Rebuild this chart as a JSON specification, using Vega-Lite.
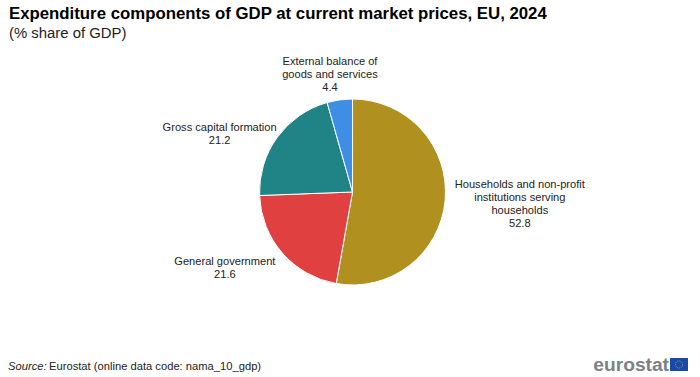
{
"$schema":"https://vega.github.io/schema/vega-lite/v6.json",
"width":690,"height":367,
"autosize":"none",
"padding":{"left":7.5,"right":2.5,"top":8.5,"bottom":1.5},
"background":"white",
"view":{"stroke":null},
"config":{"text":{"font":"Liberation Sans"}},
"title":{"text":"Expenditure components of GDP at current market prices, EU, 2024","subtitle":"(% share of GDP)","anchor":"start","frame":"group","font":"Liberation Sans","fontSize":16.8,"fontWeight":"bold","color":"#000000","subtitleFont":"Liberation Sans","subtitleFontSize":14.9,"subtitleColor":"#222222","subtitlePadding":3,"dx":1.5,"offset":-57},
"data":{"values":[
{"name":"Households and non-profit institutions serving households","value":52.8,"order":1,"label":"Households and non-profit\ninstitutions serving\nhouseholds\n52.8"},
{"name":"General government","value":21.6,"order":2,"label":"General government\n21.6"},
{"name":"Gross capital formation","value":21.2,"order":3,"label":"Gross capital formation\n21.2"},
{"name":"External balance of goods and services","value":4.4,"order":4,"label":"External balance of\ngoods and services\n4.4"}
]},
"encoding":{
"theta":{"field":"value","type":"quantitative","stack":true,"scale":{"domain":[0,100]}},
"order":{"field":"order","type":"ordinal"}
},
"layer":[
{"mark":{"type":"arc","outerRadius":93,"stroke":"white","strokeWidth":1},
"encoding":{"color":{"field":"name","type":"nominal","legend":null,"scale":{"domain":["Households and non-profit institutions serving households","General government","Gross capital formation","External balance of goods and services"],"range":["#b09120","#e04040","#208486","#3e8ee6"]}}}},
{"mark":{"type":"text","radius":181,"dx":-13,"dy":-23,"lineBreak":"\n","lineHeight":13,"fontSize":11.1,"fill":"#222222","align":"center","baseline":"middle"},
"encoding":{"text":{"condition":{"test":"datum.order===1","field":"label"},"value":""}}},
{"mark":{"type":"text","radius":150,"dx":-14.5,"dy":-28.5,"lineBreak":"\n","lineHeight":13,"fontSize":11.1,"fill":"#222222","align":"center","baseline":"middle"},
"encoding":{"text":{"condition":{"test":"datum.order===2","field":"label"},"value":""}}},
{"mark":{"type":"text","radius":150,"dx":-11.5,"dy":24,"lineBreak":"\n","lineHeight":13,"fontSize":11.1,"fill":"#222222","align":"center","baseline":"middle"},
"encoding":{"text":{"condition":{"test":"datum.order===3","field":"label"},"value":""}}},
{"mark":{"type":"text","radius":120,"dx":-6,"dy":-11,"lineBreak":"\n","lineHeight":13,"fontSize":11.1,"fill":"#222222","align":"center","baseline":"middle"},
"encoding":{"text":{"condition":{"test":"datum.order===4","field":"label"},"value":""}}},
{"data":{"values":[{"t":"Source:"}]},"mark":{"type":"text","align":"left","baseline":"alphabetic","fontSize":11.2,"fontStyle":"italic","fill":"#222222"},
"encoding":{"theta":null,"order":null,"text":{"field":"t"},"x":{"value":0.5},"y":{"value":361}}},
{"data":{"values":[{"t":"Eurostat (online data code: nama_10_gdp)"}]},"mark":{"type":"text","align":"left","baseline":"alphabetic","fontSize":11.2,"fill":"#222222"},
"encoding":{"theta":null,"order":null,"text":{"field":"t"},"x":{"value":41.5},"y":{"value":361}}},
{"data":{"values":[{"t":"eurostat"}]},"mark":{"type":"text","align":"right","baseline":"alphabetic","fontSize":19.2,"fontWeight":"bold","fill":"#7c8188"},
"encoding":{"theta":null,"order":null,"text":{"field":"t"},"x":{"value":661.5},"y":{"value":362}}},
{"data":{"values":[{"t":"flag"}]},"mark":{"type":"rect","fill":"#1a4aa8"},
"encoding":{"theta":null,"order":null,"x":{"value":662.5},"x2":{"value":680.5},"y":{"value":349.5},"y2":{"value":362.5}}},
{"data":{"values":[{"t":"stars"}]},"mark":{"type":"point","filled":false,"stroke":"#e8c830","strokeWidth":1,"strokeDash":[1,1.1],"size":50},
"encoding":{"theta":null,"order":null,"x":{"value":671.5},"y":{"value":356}}}
]
}
